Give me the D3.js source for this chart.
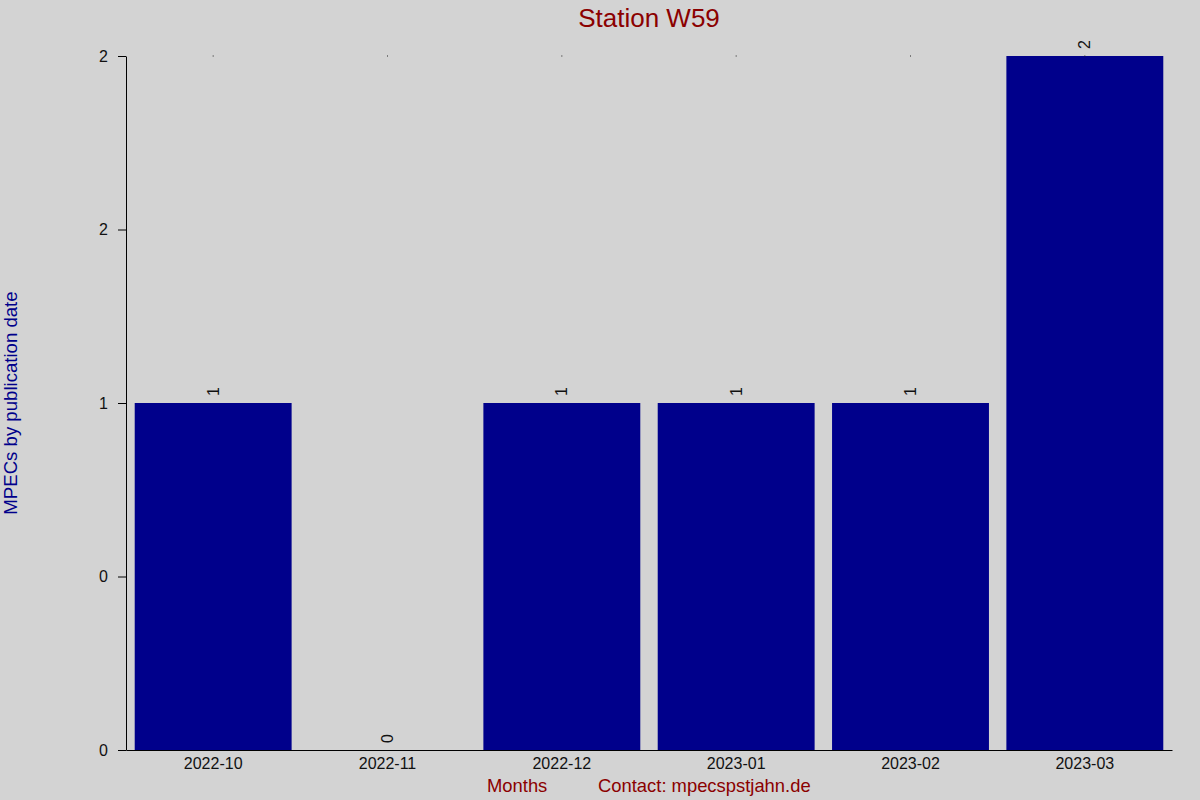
<!DOCTYPE html>
<html>
<head>
<meta charset="utf-8">
<script src="https://cdn.jsdelivr.net/npm/d3@7"></script>
<style>
  body { margin: 0; background: #d3d3d3; }
  svg { display: block; font-family: "Liberation Sans", Arial, sans-serif; }
</style>
</head>
<body>
<div id="chart"></div>
<script>
var months = ["2022-10", "2022-11", "2022-12", "2023-01", "2023-02", "2023-03"];
var counts = [1, 0, 1, 1, 1, 2];
var yTicks = [0, 0.5, 1, 1.5, 2];
var yTickLabels = ["0", "0", "1", "2", "2"];

var svgWidth = 1200, svgHeight = 800;
var margin = {top: 56, right: 28, bottom: 50, left: 126};

var svg = d3.select("#chart").append("svg")
    .attr("width", svgWidth)
    .attr("height", svgHeight);

svg.append("rect")
    .attr("width", svgWidth)
    .attr("height", svgHeight)
    .attr("fill", "#d3d3d3");

var x = d3.scaleBand()
    .domain(months)
    .range([margin.left, svgWidth - margin.right])
    .paddingInner(0.1)
    .paddingOuter(0.05);

var y = d3.scaleLinear()
    .domain([0, 2])
    .range([svgHeight - margin.bottom, margin.top]);

// bars
svg.selectAll(".bar")
    .data(counts)
    .enter().append("rect")
    .attr("class", "bar")
    .attr("x", function(d, i) { return x(months[i]); })
    .attr("y", function(d) { return y(d); })
    .attr("width", x.bandwidth())
    .attr("height", function(d) { return y(0) - y(d); })
    .attr("fill", "#00008b");

// small marks at the top of the scale
svg.selectAll(".dot")
    .data(counts)
    .enter().append("rect")
    .attr("class", "dot")
    .attr("x", function(d, i) { return x(months[i]) + x.bandwidth() / 2 - 0.5; })
    .attr("y", y(2) - 0.5)
    .attr("width", 1)
    .attr("height", 1)
    .attr("fill", "#222");

// value labels, rotated
svg.selectAll(".val")
    .data(counts)
    .enter().append("text")
    .attr("class", "val")
    .attr("transform", function(d, i) {
        return "translate(" + (x(months[i]) + x.bandwidth() / 2) + "," + (y(d) - 7) + ") rotate(-90)";
    })
    .attr("dy", "0.35em")
    .attr("text-anchor", "start")
    .style("font-size", "16px")
    .attr("fill", "#111")
    .text(function(d) { return d; });

// axes
var yAxis = d3.axisLeft(y)
    .tickValues(yTicks)
    .tickFormat(function(d, i) { return yTickLabels[i]; })
    .tickSize(8)
    .tickSizeOuter(0)
    .tickPadding(10);

var gy = svg.append("g")
    .attr("transform", "translate(" + margin.left + ",0)")
    .call(yAxis);
gy.selectAll("text").style("font-size", "16px").attr("fill", "#111");
gy.selectAll("line, path").attr("stroke", "#000");

var xAxis = d3.axisBottom(x)
    .tickSize(0)
    .tickSizeOuter(0)
    .tickPadding(8);

var gx = svg.append("g")
    .attr("transform", "translate(0," + y(0) + ")")
    .call(xAxis);
gx.selectAll("text").style("font-size", "16px").attr("fill", "#111");
gx.selectAll("path").attr("stroke", "#000");

// title
svg.append("text")
    .attr("x", (margin.left + svgWidth - margin.right) / 2)
    .attr("y", 27)
    .attr("text-anchor", "middle")
    .style("font-size", "26px")
    .attr("fill", "#8b0000")
    .text("Station W59");

// y label
svg.append("text")
    .attr("transform", "translate(17," + ((margin.top + y(0)) / 2) + ") rotate(-90)")
    .attr("text-anchor", "middle")
    .style("font-size", "18.6px")
    .attr("fill", "#00008b")
    .text("MPECs by publication date");

// bottom labels
svg.append("text")
    .attr("x", 487)
    .attr("y", 792)
    .style("font-size", "18.4px")
    .attr("fill", "#8b0000")
    .text("Months");

svg.append("text")
    .attr("x", 598)
    .attr("y", 792)
    .style("font-size", "18.4px")
    .attr("fill", "#8b0000")
    .text("Contact: mpecspstjahn.de");
</script>
</body>
</html>
